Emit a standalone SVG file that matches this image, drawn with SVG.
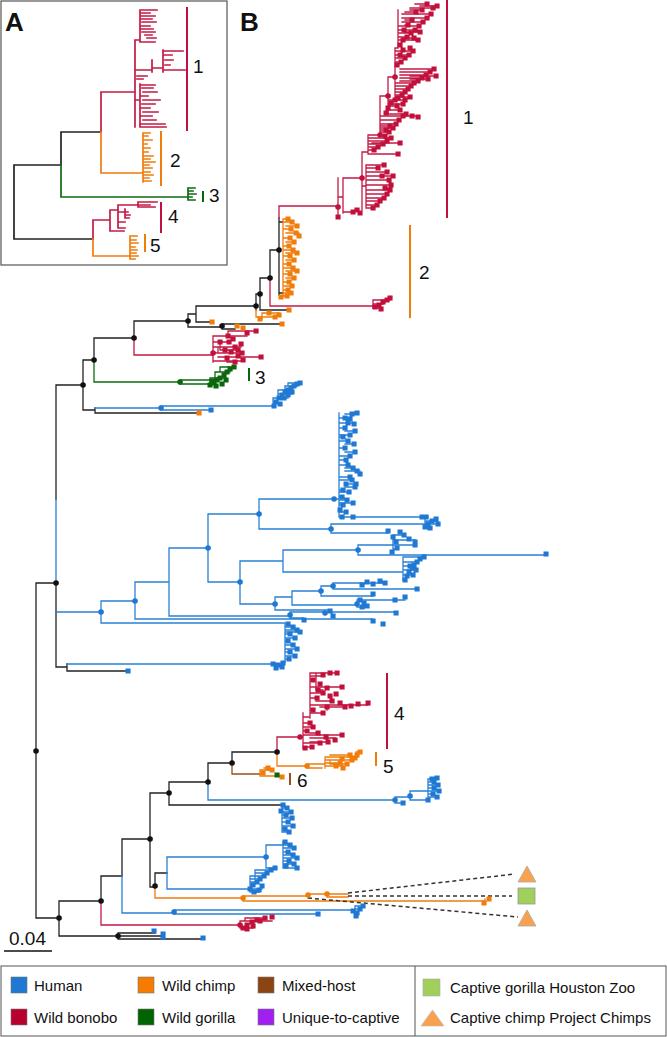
<svg xmlns="http://www.w3.org/2000/svg" width="667" height="1037" viewBox="0 0 667 1037">
<style>
.l{fill:none;stroke-width:1.3;stroke-linecap:square}
.a{fill:none;stroke-width:1.7;stroke-linecap:square}
.k{stroke:#222}.r{stroke:#c41a45}.o{stroke:#f07c0c}.b{stroke:#2a80d6}.g{stroke:#0d6b12}.n{stroke:#9a4e1c}
.t{fill:none;stroke-width:5;stroke-linecap:square}
.d{fill:none;stroke-width:5.5;stroke-linecap:round}
.R{stroke:#c0103b}.O{stroke:#f07d0a}.B{stroke:#1f78d2}.G{stroke:#0a660a}.K{stroke:#111}
.bar{stroke-width:2;fill:none}
.lab{font-family:"Liberation Sans",Arial,sans-serif;font-size:19px;fill:#111}
.pl{font-family:"Liberation Sans",Arial,sans-serif;font-size:26px;font-weight:bold;fill:#111}
.lg{font-family:"Liberation Sans",Arial,sans-serif;font-size:15px;fill:#111}
.sw{stroke:#777;stroke-width:0.6}
.dash{stroke:#333;stroke-width:1.5;stroke-dasharray:4 3;fill:none}
</style>
<rect width="667" height="1037" fill="#fff"/>

<g id="panelA">
<rect x="1" y="1" width="226" height="264" fill="none" stroke="#555" stroke-width="1.2"/>
<text class="pl" x="5" y="31">A</text>
<path class="a k" d="M14 165V239M14 165H61M14 239H93M61 132V165M61 132H101"/>
<path class="a g" d="M61 165V197H187M188 188V200M188 188H195M188 191H193M188 194H196M188 197H192M188 200H195"/>
<path class="a r" d="M101 92V132M101 92H135M135 40V127M135 40H140M140 10V42M140 10H157M140 13H150M140 16H155M140 19H152M142 22H156M140 26H150M140 29H153M142 32H155M145 35H152M147 38H156M140 42H155M135 70H152M152 60V72M152 68H163M163 50V72M163 51H183M163 70H185M163 55H172M165 60H173M165 65H170M137 76H147M137 79H143M135 100H140M140 84V127M140 85H155M142 88H153M143 92H157M140 96H148M143 100H160M142 104H155M140 108H150M143 112H158M140 116H152M143 120H156M140 124H165M140 127H166"/>
<path class="a o" d="M101 132V173H143M143 133V182M143 133H150M143 136H148M143 140H152M143 144H147M143 148H150M143 152H148M143 156H153M143 159H150M143 162H155M143 165H149M143 168H152M143 172H150M143 175H153M143 178H149M143 181H151"/>
<path class="a r" d="M93 220V239M93 220H110M110 210V231M110 210H118M118 205V228M118 205H138M138 202V207M138 202H157M138 205H150M138 207H155M118 212H128M125 209V218M125 215H130M125 218H129M118 222H125M118 228H125M110 231H124"/>
<path class="a o" d="M93 239V256H130M130 236V259M130 236H137M130 240H136M130 243H138M130 247H135M130 250H137M130 253H136M130 256H138M130 259H135"/>
<path class="bar R" d="M187 7V131"/><path class="bar O" d="M161 131V186"/><path class="bar G" d="M203 191V202"/><path class="bar R" d="M161 202V233"/><path class="bar O" d="M145 234V252"/>
<text class="lab" x="193" y="73">1</text><text class="lab" x="170" y="167">2</text><text class="lab" x="209" y="202">3</text><text class="lab" x="168" y="223">4</text><text class="lab" x="150" y="252">5</text>
</g>

<text class="pl" x="240" y="31">B</text>

<g id="connectors">
<path class="l k" d="M36 583V918M36 583H56M56 385V499M56 583V667M56 385H83M56 667H67M83 360V410M83 360H94M83 410H95M95 408V413M95 413H199M94 338V360M94 338H134M134 321V338M134 321H188M188 314V327M188 314H196M196 306V322M196 306H256M196 322H210M188 327H222M222 324V329M222 324H280M222 329H235M256 294V310M256 294H260M260 278V310M260 278H270M260 310H288M270 250V278M270 250H279M279 218V295M279 222H283M279 293H283M67 664V671M67 671H128M36 918H59M59 901V936M59 901H101M59 936H118M118 933V939M118 933H155M118 936H163M118 939H203M101 876V901M101 876H122M122 839V876M122 839H150M150 793V887M150 793H169M150 887H155M169 782V805M169 782H208M169 805H282M208 763V782M208 763H232M232 752V763M232 752H277M155 873V886M155 873H167"/>
<path class="l b" d="M56 499V583M56 612H101M95 408H161M161 406V410M161 406H273M161 410H211M67 664H273M122 876V913H174M174 910V914M174 910H355M174 914H318M208 782V800H395M167 857V889M167 857H266M167 889H250"/>
<path class="l r" d="M279 206V218M279 206H338M270 278V306H373M134 338V355H213M101 901V925H240M277 737V752M277 737H300"/>
<path class="l o" d="M277 752V766H307M155 886V898H243M243 896V901M243 896H308M243 901H485M308 894V898M308 894H348M327 894V897H348M485 899V903M256 310V317H262"/>
<path class="l n" d="M232 763V774H260"/>
<path class="l g" d="M94 360V382H180"/>
<path class="dash" d="M348 893L515 874M348 896L512 896M308 898L518 917"/>
</g>

<g id="clade1">
<path class="l r" d="M338 178V217M338 197H343M343 178V213M343 212H353M343 178H362M362 152V210M366 165V208M362 186H366M366 208H373M366 205H377M366 201H380M366 198H384M366 194H387M366 190H390M366 185H391M366 180H389M366 176H393M366 172H387M366 168H378M366 165H384M362 152H368M368 135V152M368 150H374M368 147H378M368 144H383M368 141H387M368 138H391M372 143H400M368 152V154H398M368 135H380M380 96V135M380 136H385M380 132H389M380 128H393M380 124H396M380 120H399M380 116H403M380 126H390M380 130H386M380 96H388M388 77V113M388 103H391M388 100H395M388 110H400M388 114H406M392 116H418M388 106H397M388 104H403M388 77H395M395 48V100M395 98H398M395 95H402M395 92H405M395 89H408M395 86H411M395 83H414M400 81H418M400 78H422M400 75H426M400 72H430M400 69H434M410 76H436M410 79H428M395 100H405M395 97H410M395 65H397M395 62H401M395 58H405M395 55H409M395 51H413M395 48H398M398 10V48M398 45H400M398 40H403M398 37H407M398 33H411M398 30H415M398 26H419M402 22H423M402 18H427M402 14H431M410 8H433M415 4H427M420 6H437M405 32H420M405 38H414M405 25H408M405 12H416M410 10H422M405 20H412M405 40H418"/>
<path class="t R" d="M338 217h.1M353 212h.1M357 210h.1M360 213h.1M373 208h.1M377 205h.1M380 201h.1M384 198h.1M387 194h.1M390 190h.1M385 188h.1M391 185h.1M389 180h.1M393 176h.1M387 172h.1M382 176h.1M378 168h.1M384 165h.1M374 150h.1M378 147h.1M383 144h.1M387 141h.1M391 138h.1M400 143h.1M398 154h.1M385 136h.1M389 132h.1M393 128h.1M396 124h.1M399 120h.1M403 116h.1M390 126h.1M386 130h.1M388 108h.1M391 103h.1M395 100h.1M400 110h.1M406 114h.1M412 116h.1M418 117h.1M397 106h.1M403 104h.1M386 113h.1M398 98h.1M402 95h.1M405 92h.1M408 89h.1M411 86h.1M414 83h.1M418 81h.1M422 78h.1M426 75h.1M430 72h.1M434 69h.1M436 76h.1M428 79h.1M405 100h.1M410 97h.1M397 65h.1M401 62h.1M405 58h.1M409 55h.1M413 51h.1M410 48h.1M400 55h.1M403 50h.1M400 45h.1M403 40h.1M407 37h.1M411 33h.1M415 30h.1M419 26h.1M423 22h.1M427 18h.1M431 14h.1M433 8h.1M427 4h.1M437 6h.1M420 32h.1M414 38h.1M404 30h.1M408 25h.1M416 12h.1M422 10h.1M412 20h.1M418 40h.1"/>
<path class="bar R" d="M447 0V218"/><text class="lab" x="463" y="124">1</text>
</g>

<g id="clade2">
<path class="l o" d="M283 219V296M283 219H288M283 222H292M286 226H297M283 229H291M286 233H299M283 238H290M286 242H294M283 246H289M283 250H293M286 253H297M283 256H290M286 260H294M283 264H289M283 268H293M286 271H297M283 274H290M286 278H294M283 282H289M283 286H292M283 290H288M283 293H291M283 296H287"/>
<path class="t O" d="M288 219h.1M292 222h.1M297 226h.1M291 229h.1M296 233h.1M299 236h.1M290 238h.1M294 242h.1M289 246h.1M293 250h.1M297 253h.1M290 256h.1M294 260h.1M289 264h.1M293 268h.1M297 271h.1M290 274h.1M294 278h.1M289 282h.1M292 286h.1M288 290h.1M291 293h.1M287 296h.1M281 297h.1"/>
<path class="bar O" d="M410 225V318"/><text class="lab" x="419" y="279">2</text>
</g>

<g id="clade3">
<path class="l g" d="M180 380V384M180 380H210M180 384H212M210 378V386M210 378H224M215 372V378M215 372H230M220 367H234M220 367V372"/>
<path class="t G" d="M210 385h.1M214 383h.1M217 380h.1M220 378h.1M224 375h.1M227 372h.1M230 369h.1M234 367h.1M222 384h.1M216 386h.1M212 381h.1M226 380h.1"/>
<path class="bar G" d="M249 368V381"/><text class="lab" x="255" y="384">3</text>
</g>

<g id="upper-misc">
<path class="l r" d="M213 336V362M213 336H247M228 336V331H256M213 342H229M220 342V350H238M213 347H241M218 347V353M213 353H242M218 357H261M213 361H243M227 358V362H235M373 300V308M373 300H390M373 304H383M373 308H381"/>
<path class="t R" d="M228 336h.1M233 339h.1M229 342h.1M220 342h.1M241 344h.1M235 347h.1M242 353h.1M247 333h.1M256 331h.1M261 357h.1M243 360h.1M235 362h.1M227 358h.1M238 356h.1M225 350h.1M231 352h.1M238 350h.1M375 307h.1M379 305h.1M383 302h.1M387 300h.1M390 298h.1M381 309h.1"/>
<path class="l o" d="M262 313V319M262 313H279M262 317H275"/>
<path class="t O" d="M199 413h.1M212 322h.1M237 326h.1M243 328h.1M282 324h.1M289 310h.1M260 319h.1M269 313h.1M275 317h.1M279 315h.1"/>
<path class="l b" d="M273 398V406M273 402H276M273 398H284M278 390V398H288M278 394H292M278 390H291M285 386V390M285 386H297M288 383H300M288 383V386"/>
<path class="t B" d="M211 410h.1M274 406h.1M276 402h.1M279 398h.1M282 395h.1M285 392h.1M288 390h.1M291 388h.1M294 386h.1M297 384h.1M300 383h.1M284 398h.1M288 395h.1M280 404h.1M292 392h.1"/>
</g>

<g id="human-clades">
<path class="l b" d="M101 601V623M101 601H135M101 623H285M135 582V619M135 582H169M135 619H372M169 548V616M169 548H208M169 616H290M208 514V582M208 514H259M208 582H240M259 499V529M259 499H334M259 529H331M240 561V604M240 561H283M240 604H275M283 550V572M283 550H358M283 572H403M275 597V610M275 597H292M275 610H330M292 591V605M292 591H321M292 605H357M321 586V596M321 586H333M321 596H373M290 612V618M290 612H396M290 618H303M358 545V555M358 545H393M358 555H545M331 524V533M331 524H425M331 533H388M334 499H339M339 413V517M345 414H357M339 418H350M339 423H354M339 428H345M345 431H355M339 435H350M339 437H343M339 441H348M345 444H354M339 448H345M345 452H355M339 456H350M339 460H346M339 465H348M345 468H353M345 471H360M339 477H350M339 480H352M345 484H356M339 490H343M339 492H349M345 487H355M339 497H342M339 500H347M339 503H353M339 505H343M339 512H346M339 517H428M425 517V528M425 521H436M425 524H438M425 528H430M393 535V550M393 535H404M393 540H415M393 545H415M393 549H397M403 557V580M403 557H424M403 562H417M403 566H410M403 570H416M403 575H413M333 583V589M333 583H385M333 589H417M357 600V607M357 600H405M357 607H367M285 623V662M285 627H293M285 630H297M285 634H290M285 638H295M285 641H288M285 645H293M285 649H297M285 652H290M285 656H295M285 659H289M285 632H300M282 805V832M282 808H287M282 812H291M282 815H286M282 818H292M282 822H288M282 826H293M282 829H285M282 832H289M266 845V868M266 845H283M283 842V868M283 845H290M283 848H294M283 852H288M283 855H293M283 858H297M283 861H289M283 864H294M283 866H286M283 868H297M266 868H275M250 876V892M250 876H264M255 873H267M255 870H271M255 870V879M250 879H260M250 882H257M250 885H253M250 889H262M250 892H259M395 797V803M395 797H410M395 803H403M410 791V800M410 791H428M410 800H428M428 779V800M428 779H437M428 782H434M428 785H438M428 788H434M428 791H439M428 794H433M428 797H437M355 906V916M355 906H363M355 909H360M355 913H357"/>
<path class="t B" d="M352 414h.1M357 413h.1M345 418h.1M350 419h.1M348 423h.1M354 424h.1M345 428h.1M355 431h.1M350 435h.1M343 437h.1M348 441h.1M354 444h.1M345 448h.1M355 452h.1M350 456h.1M346 460h.1M348 465h.1M353 468h.1M357 471h.1M360 474h.1M350 477h.1M352 480h.1M356 484h.1M346 484h.1M343 490h.1M349 492h.1M355 487h.1M342 497h.1M347 500h.1M353 503h.1M343 505h.1M340 510h.1M346 512h.1M353 517h.1M342 517h.1M425 527h.1M428 524h.1M432 521h.1M436 519h.1M438 524h.1M430 528h.1M426 517h.1M422 517h.1M388 531h.1M400 532h.1M393 537h.1M415 542h.1M415 545h.1M392 552h.1M397 548h.1M404 535h.1M409 539h.1M396 542h.1M546 554h.1M405 580h.1M407 576h.1M409 572h.1M412 568h.1M414 565h.1M417 562h.1M420 559h.1M424 557h.1M410 566h.1M416 570h.1M413 575h.1M362 585h.1M367 582h.1M373 584h.1M380 581h.1M385 583h.1M417 589h.1M373 594h.1M360 600h.1M364 603h.1M367 606h.1M362 607h.1M395 600h.1M405 597h.1M330 611h.1M333 616h.1M396 613h.1M304 620h.1M373 621h.1M383 624h.1M288 624h.1M293 627h.1M297 630h.1M290 634h.1M295 638h.1M288 641h.1M293 645h.1M297 649h.1M290 652h.1M295 656h.1M289 659h.1M283 663h.1M278 665h.1M273 664h.1M276 668h.1M282 667h.1M300 632h.1M128 671h.1M154 931h.1M163 934h.1M163 937h.1M203 938h.1M357 913h.1M360 909h.1M363 906h.1M356 916h.1M318 914h.1M353 911h.1M283 805h.1M287 808h.1M291 812h.1M286 815h.1M292 818h.1M288 822h.1M293 826h.1M285 829h.1M289 832h.1M281 811h.1M285 842h.1M290 845h.1M294 848h.1M288 852h.1M293 855h.1M297 858h.1M289 861h.1M294 864h.1M286 866h.1M297 868h.1M250 889h.1M253 885h.1M257 882h.1M260 879h.1M264 876h.1M267 873h.1M271 870h.1M254 892h.1M259 890h.1M275 868h.1M262 886h.1M432 779h.1M437 778h.1M434 782h.1M438 785h.1M434 788h.1M439 791h.1M433 794h.1M437 797h.1M428 800h.1M403 803h.1"/>
</g>

<g id="clade4-6">
<path class="l r" d="M300 737H303M303 713V748M303 717H310M310 673V718M310 673H337M316 673V690M310 680H313M310 676H323M310 687H342M316 690H323M310 693H323M310 698H317M316 701H332M310 705H368M320 707H345M327 707V710M310 710H313M310 713H323M303 723H310M303 727H313M303 731H307M303 735H342M310 738H335M310 742H328M303 743H320M303 747H312M310 733H318M240 921V928M240 921H272M245 918H265M245 918V921M240 928H253"/>
<path class="t R" d="M313 680h.1M323 675h.1M330 673h.1M337 673h.1M342 687h.1M318 690h.1M323 693h.1M317 698h.1M332 701h.1M327 707h.1M345 707h.1M358 704h.1M368 703h.1M313 710h.1M323 713h.1M310 723h.1M313 727h.1M307 731h.1M342 735h.1M335 740h.1M328 742h.1M320 743h.1M312 747h.1M305 748h.1M318 733h.1M326 737h.1M320 684h.1M327 688h.1M336 694h.1M351 706h.1M330 696h.1M340 703h.1M247 929h.1M252 922h.1M257 920h.1M265 918h.1M272 917h.1M247 925h.1M243 928h.1M260 921h.1M253 926h.1"/>
<path class="l o" d="M307 764V768M307 764H325M307 768H322M325 757V768M325 757H357M330 755H350M325 760H352M325 763H340M325 766H343M330 760V764H347M356 752V757M356 752H360M260 770V776M260 770H272M260 776H282M264 768H268"/>
<path class="t O" d="M342 759h.1M350 755h.1M357 755h.1M343 768h.1M352 760h.1M340 763h.1M347 764h.1M336 766h.1M355 758h.1M360 752h.1M263 773h.1M272 770h.1M282 777h.1M268 768h.1M484 903h.1M489 899h.1"/>
<path class="t G" d="M277 775h.1"/>
<path class="bar R" d="M387 673V749"/><text class="lab" x="394" y="720">4</text>
<path class="bar O" d="M376 752V766"/><text class="lab" x="383" y="773">5</text>
<path class="bar n" d="M290 773V785"/><text class="lab" x="297" y="787">6</text>
</g>

<g id="nodes">
<path class="d K" stroke-width="6" d="M36 751h.1M56 583h.1M83 385h.1M94 360h.1M134 338h.1M188 321h.1M222 326h.1M256 306h.1M260 294h.1M270 278h.1M279 250h.1M59 918h.1M101 901h.1M150 839h.1M155 886h.1M118 936h.1M208 782h.1M232 763h.1M277 752h.1M169 793h.1"/>
<path class="d B" d="M161 408h.1M101 612h.1M135 601h.1M208 548h.1M259 514h.1M240 582h.1M275 604h.1M321 591h.1M334 499h.1M331 529h.1M358 550h.1M290 615h.1M174 912h.1M266 857h.1M395 800h.1M410 796h.1M333 586h.1M357 604h.1M325 613h.1"/>
<path class="d R" d="M338 207h.1M362 178h.1M380 135h.1M388 96h.1M395 77h.1M213 353h.1M300 737h.1M240 925h.1"/>
<path class="d O" d="M243 898h.1M308 895h.1M327 894h.1M307 766h.1"/>
<path class="d G" d="M180 382h.1"/>
</g>

<g id="captive">
<polygon points="518,882 536,882 527,866" fill="#f9a24e" stroke="#aaa" stroke-width="0.8"/>
<rect x="518" y="888" width="17" height="16" fill="#a0cf5c" stroke="#999" stroke-width="0.8"/>
<polygon points="518,926 536,926 527,910" fill="#f9a24e" stroke="#aaa" stroke-width="0.8"/>
</g>

<g id="scale">
<text class="lab" x="9" y="945" font-size="20">0.04</text>
<path d="M4 951H52" stroke="#111" stroke-width="1.5"/>
</g>

<g id="legend">
<rect x="1" y="966" width="665" height="70" fill="none" stroke="#555" stroke-width="1"/>
<path d="M415 966V1036" stroke="#555" stroke-width="1"/>
<rect class="sw" x="11" y="977" width="16" height="16" fill="#1f78d2"/><text class="lg" x="34" y="991">Human</text>
<rect class="sw" x="138" y="977" width="16" height="16" fill="#f57c00"/><text class="lg" x="162" y="991">Wild chimp</text>
<rect class="sw" x="258" y="977" width="16" height="16" fill="#8b4513"/><text class="lg" x="282" y="991">Mixed-host</text>
<rect class="sw" x="11" y="1009" width="16" height="16" fill="#b8002e"/><text class="lg" x="34" y="1023">Wild bonobo</text>
<rect class="sw" x="138" y="1009" width="16" height="16" fill="#006400"/><text class="lg" x="162" y="1023">Wild gorilla</text>
<rect class="sw" x="258" y="1009" width="16" height="16" fill="#a020f0"/><text class="lg" x="282" y="1023">Unique-to-captive</text>
<rect x="423" y="979" width="17" height="17" fill="#a0cf5c" stroke="#aaa" stroke-width="0.6"/><text class="lg" x="450" y="993">Captive gorilla Houston Zoo</text>
<polygon points="421,1026 444,1026 432.5,1010" fill="#f9a24e" stroke="#bbb" stroke-width="0.6"/><text class="lg" x="450" y="1023">Captive chimp Project Chimps</text>
</g>
</svg>
